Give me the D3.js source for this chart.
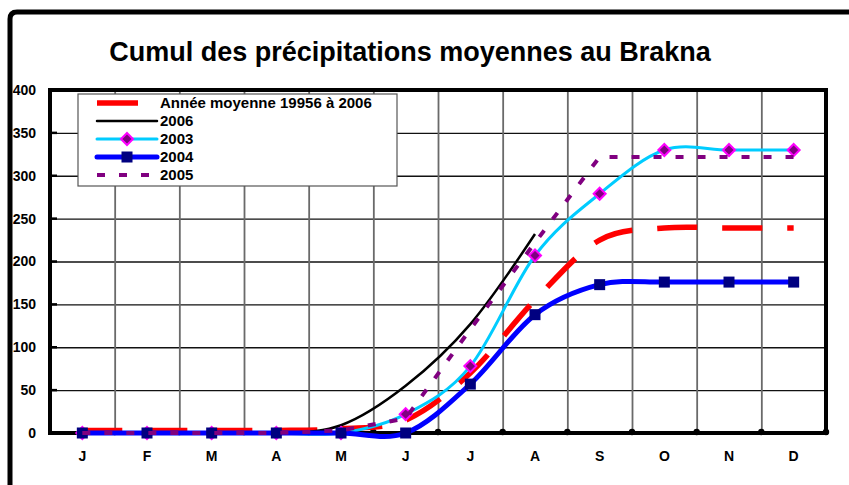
<!DOCTYPE html>
<html lang="fr">
<head>
<meta charset="UTF-8">
<title>Cumul des précipitations moyennes au Brakna</title>
<script src="https://d3js.org/d3.v7.min.js"></script>
<style>
  body { margin: 0; background: #fff; }
  text { font-family: Arial, "Liberation Sans", sans-serif; font-weight: bold; fill: #000; }
</style>
</head>
<body>
<svg width="849" height="485"></svg>
<script>
  // data (mm, cumulative)
  const months = ["J", "F", "M", "A", "M", "J", "J", "A", "S", "O", "N", "D"];
  const yTicks = [0, 50, 100, 150, 200, 250, 300, 350, 400];
  const moyenne = [3, 3, 3, 3, 5, 15, 70, 155, 225, 239, 239, 239];
  const y2006 = [0, 0, 0, 0, 9, 55, 127, 232, null, null, null, null];
  const y2003 = [0, 0, 0, 0, 0, 22, 78, 207, 279, 330, 330, 330];
  const y2004 = [0, 0, 0, 0, 0, 0, 57, 138, 173, 176, 176, 176];
  const y2005 = [0, 0, 0, 0, 3, 17, 121, 222, 322, 322, 322, 322];

  const smooth = d3.curveCatmullRom.alpha(0);
  const series = [
    { name: "Année moyenne 19956 à 2006", values: moyenne, color: "#ff0000", width: 5.5, dash: "40,25", curve: smooth },
    { name: "2006", values: y2006, color: "#000000", width: 2.5, curve: smooth },
    { name: "2003", values: y2003, color: "#00ccff", width: 3, marker: "diamond", curve: smooth },
    { name: "2004", values: y2004, color: "#0000ff", width: 5, marker: "square", curve: smooth },
    { name: "2005", values: y2005, color: "#800080", width: 4, dash: "8,14", curve: d3.curveLinear }
  ];

  const svg = d3.select("svg");
  const pLeft = 50, pRight = 826, pTop = 90, pBottom = 433;

  // outer frame (thick, top and left)
  svg.append("path")
    .attr("d", "M10,485 L10,19 Q10,12 17,12 L849,12")
    .attr("fill", "none").attr("stroke", "#000").attr("stroke-width", 5);

  svg.append("text")
    .attr("x", 410).attr("y", 61)
    .attr("text-anchor", "middle")
    .style("font-size", "27px")
    .text("Cumul des précipitations moyennes au Brakna");

  const x = d3.scaleBand().domain(d3.range(12)).range([pLeft, pRight]);
  const xb = d3.scaleLinear().domain([0, 12]).range([pLeft, pRight]);
  const y = d3.scaleLinear().domain([0, 400]).range([pBottom, pTop]);

  // horizontal grid
  svg.append("g")
    .attr("transform", `translate(${pLeft},0)`)
    .call(d3.axisLeft(y).tickValues(yTicks).tickSize(-(pRight - pLeft)).tickFormat(""))
    .call(g => g.select(".domain").remove())
    .call(g => g.selectAll("line").attr("stroke", "#111").attr("stroke-width", 1.3));

  // vertical grid
  svg.append("g")
    .attr("transform", `translate(0,${pBottom})`)
    .call(d3.axisBottom(xb).tickValues(d3.range(1, 12)).tickSize(-(pBottom - pTop)).tickFormat(""))
    .call(g => g.select(".domain").remove())
    .call(g => g.selectAll("line").attr("stroke", "#6a6a6a").attr("stroke-width", 1.8));

  // y labels
  svg.append("g")
    .attr("transform", `translate(${pLeft},0)`)
    .call(d3.axisLeft(y).tickValues(yTicks).tickSize(0).tickPadding(14))
    .call(g => g.select(".domain").remove())
    .call(g => g.selectAll("text").style("font-size", "14px").style("font-family", "Arial, 'Liberation Sans', sans-serif"));

  // small inner ticks
  svg.append("g").selectAll("line")
    .data(yTicks.slice(1))
    .join("line")
    .attr("x1", pLeft).attr("x2", pLeft + 7)
    .attr("y1", d => y(d)).attr("y2", d => y(d))
    .attr("stroke", "#000").attr("stroke-width", 2.5);
  svg.append("g").selectAll("circle")
    .data(d3.range(1, 13))
    .join("circle")
    .attr("cx", d => xb(d)).attr("cy", pBottom - 1).attr("r", 3.2)
    .attr("fill", "#000");

  // month labels
  svg.append("g")
    .attr("transform", `translate(0,${pBottom})`)
    .call(d3.axisBottom(x).tickSize(0).tickPadding(18).tickFormat(i => months[i]))
    .call(g => g.select(".domain").remove())
    .call(g => g.selectAll("text").style("font-size", "14px").style("font-family", "Arial, 'Liberation Sans', sans-serif"));

  // plot frame
  svg.append("rect")
    .attr("x", pLeft).attr("y", pTop)
    .attr("width", pRight - pLeft).attr("height", pBottom - pTop)
    .attr("fill", "none").attr("stroke", "#000").attr("stroke-width", 4);

  const cx = i => x(i) + x.bandwidth() / 2;

  function drawMarker(g, type, px, py) {
    if (type === "diamond") {
      g.append("path")
        .attr("d", `M${px},${py - 6} L${px + 6},${py} L${px},${py + 6} L${px - 6},${py} Z`)
        .attr("fill", "#800080").attr("stroke", "#ff00ff").attr("stroke-width", 2);
    } else if (type === "square") {
      g.append("rect")
        .attr("x", px - 5.5).attr("y", py - 5.5).attr("width", 11).attr("height", 11)
        .attr("fill", "#000080");
    }
  }

  const plot = svg.append("g");
  series.forEach(s => {
    const line = d3.line()
      .defined(d => d != null)
      .x((d, i) => cx(i))
      .y(d => y(d))
      .curve(s.curve);
    plot.append("path")
      .attr("d", line(s.values))
      .attr("fill", "none")
      .attr("stroke", s.color)
      .attr("stroke-width", s.width)
      .attr("stroke-dasharray", s.dash || null)
      .attr("stroke-linejoin", "round");
    if (s.marker) {
      s.values.forEach((v, i) => { if (v != null) drawMarker(plot, s.marker, cx(i), y(v)); });
    }
  });

  // legend
  const legend = svg.append("g").attr("transform", "translate(78,94)");
  legend.append("rect")
    .attr("width", 319).attr("height", 92)
    .attr("fill", "#fff").attr("stroke", "#555").attr("stroke-width", 1.2);
  series.forEach((s, i) => {
    const ly = 9 + i * 18;
    legend.append("line")
      .attr("x1", 19).attr("x2", s.dash === "40,25" ? 60 : 79)
      .attr("y1", ly).attr("y2", ly)
      .attr("stroke", s.color).attr("stroke-width", s.width)
      .attr("stroke-dasharray", s.dash === "40,25" ? null : (s.dash || null))
      .attr("stroke-linecap", s.dash ? "butt" : "round");
    if (s.marker) drawMarker(legend, s.marker, 49, ly);
    legend.append("text")
      .attr("x", 82).attr("y", ly + 5)
      .style("font-size", "15px")
      .text(s.name);
  });
</script>
</body>
</html>
